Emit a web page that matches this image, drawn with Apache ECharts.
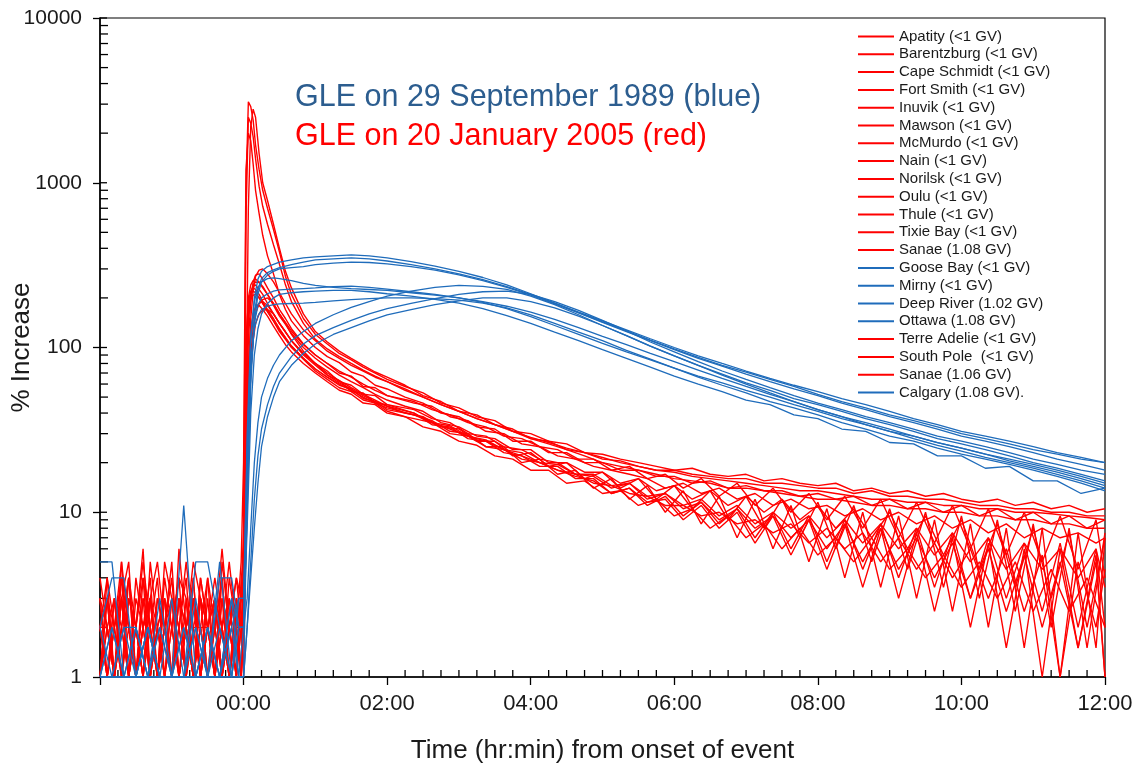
<!DOCTYPE html>
<html>
<head>
<meta charset="utf-8">
<script src="https://cdn.jsdelivr.net/npm/echarts@6/dist/echarts.min.js"></script>
<style>
  html, body { margin: 0; padding: 0; background: #fff; }
  #chart { width: 1137px; height: 767px; }
</style>
</head>
<body>
<div id="chart"></div>
<script>
// minutes from onset of event
const R_T = [-120,-114,-108,-102,-96,-90,-84,-78,-72,-66,-60,-54,-48,-42,-36,-30,-24,-18,-12,-6,-2,
  0,2,4,6,8,10,13,16,20,25,30,35,40,50,60,
  70,80,90,100,110,120,
  135,150,165,180,195,210,225,240,255,270,285,300,315,330,345,360,375,390,405,420,
  435,450,465,480,495,510,525,540,555,570,585,600,615,630,645,660,675,690,705,720]
// stations sampled half a step later in the decay phase
const R_T2 = [-120,-114,-108,-102,-96,-90,-84,-78,-72,-66,-60,-54,-48,-42,-36,-30,-24,-18,-12,-6,-2,
  0,2,4,6,8,10,13,16,20,25,30,35,40,50,60,
  70,80,90,100,110,120,
  142.5,157.5,172.5,187.5,202.5,217.5,232.5,247.5,262.5,277.5,292.5,307.5,322.5,337.5,352.5,367.5,
  382.5,397.5,412.5,427.5,442.5,457.5,472.5,487.5,502.5,517.5,532.5,547.5,562.5,577.5,592.5,607.5,
  622.5,637.5,652.5,667.5,682.5,697.5,712.5,720]
const B_T = [-120,-110,-100,-90,-80,-70,-60,-50,-40,-30,-20,-10,-4,
  0,3,6,9,12,15,20,25,30,40,50,60,
  75,90,105,120,
  140,160,180,200,220,240,260,280,300,320,340,360,380,400,420,440,460,480,500,520,
  540,560,580,600,620,640,660,680,700,720]

// GLE 20 January 2005 (% increase)
const apatity = [2,1,3,1,4,2,1,5,2,1,3,2,1,4,1,2,3,1,2,4,3,
  8,900,3100,2900,2400,1700,1200,900,700,520,380,270,210,150,120,
  105,92,84,76,70,64,
  58,53,46,43,38,36,31,30,27,26,23,22.5,21,20,19,18,18.5,17,16.5,17,
  15.5,16,15,14.5,15,13.5,14,13,13.5,12.5,13,12,11.5,12,11,11.5,10.5,11,10,10.5]
const barentzburg = [1,3,2,5,1,2,4,1,3,2,1,6,2,3,1,4,2,1,3,2,1,
  3,40,700,2200,2800,2500,1500,1000,780,560,400,290,230,160,125,
  108,95,86,78,71,66,
  59,51,47,41,39,34,32,28,27,24,23,21,20.5,19,18,18,17,16.5,16,16,
  15,15,14.5,14,14,13,13.5,12.5,12.5,12,12,11.5,11,11,10.5,10.5,10,10,9.5,9.5]
const capeSchmidt = [2,2,1,3,5,1,2,3,1,4,2,1,2,5,3,1,2,4,1,2,5,
  20,1200,2000,1800,1300,900,650,480,360,280,210,170,145,118,100,
  88,81,71,67,59,56,
  50,46,40,38,33,32,27,27,23,23,20,20,18,18,16.5,16.5,15,15.5,14,14.5,
  13.5,13.5,12.5,13,12,12.5,11,12,10.5,11.5,10,11,9.5,10.5,9,10,8.5,9.5,8,9]
const fortSmith = [1,4,2,1,3,2,6,1,2,3,1,2,4,1,3,2,1,5,2,1,3,
  4,30,110,190,250,275,280,260,230,200,170,150,130,105,90,
  80,70,67,58,57,51,
  46,44,38,36,31,30,26,25,22,21,19,18,17,16,14,15,13,14,12,13,
  11,12,10.5,11,9.5,10.5,9,10,8.5,9.5,8,9,7.5,8.5,7,8,7,7.5,6.5,7]
const inuvik = [3,1,2,4,1,2,1,3,5,2,1,3,2,1,4,2,3,1,2,3,1,
  2,60,150,210,235,240,225,210,185,160,140,125,110,92,80,
  72,62,59,52,51,45,
  42,37,35,30,29,25,24,21,20,17,17,14.5,15,12.5,13,11,12,9.5,11,8.5,
  10,8,9.5,7,9,6.5,8.5,6,8,5.5,7.5,5,7,4.5,6.5,4.5,6,4,6,3.5]
const mawson = [2,3,1,2,4,1,3,2,1,5,3,1,2,3,1,2,4,2,1,3,2,
  2,12,70,150,220,270,295,300,280,250,215,185,160,128,110,
  95,86,78,72,66,62,
  55,50,45,41,37,34,31,28,26,24,22,20,19,18,17,16,15.5,15,14,14,
  13.5,13,12.5,12,12,11.5,11,11,10.5,10.5,10,10,9.5,9.5,9,9,8.5,8.5,8,8]
const mcMurdo = [1,2,1,3,2,1,2,4,1,2,1,3,1,2,2,1,3,1,2,1,2,
  1,8,40,90,130,160,185,195,200,185,160,140,120,95,80,
  68,63,54,53,46,45,
  40,34,33,28,27,23,22,19,19,16,16,13,14,11,12.5,9.5,11.5,8.5,10.5,7,
  10,6,9.5,5,9,4.5,8.5,4,8,3.5,7.5,3,7,3,6.5,2.5,6.5,2,6,2]
const nain = [4,2,1,3,1,2,5,2,1,3,2,4,1,2,3,1,2,6,2,1,4,
  5,80,170,210,220,215,200,185,165,145,125,112,100,85,72,
  64,57,54,48,46,41,
  38,33,31,27,25.5,22,21,18,18,15,15.5,13,13.5,11,12,9.5,10.5,8,9.5,7,
  8.5,6,8,5.5,7,5,7,4.5,6,4,5.5,3.5,5,3,5,2.5,4.5,2.5,4,2]
const norilsk = [2,1,3,2,1,4,2,1,2,3,1,2,5,2,1,3,1,2,1,2,3,
  3,20,80,130,160,175,180,170,155,135,118,104,94,80,70,
  62,55,52,46,45,40,
  37,35,30,29,25,24,21,20,18,16.5,15.5,13,14,11.5,12,9,11,8,10,6.5,
  9.5,5.5,9,4.5,8.5,3.5,8,3,7.5,2.5,7,2,6.5,1.5,6,1,6,1.5,5.5,1]
const oulu = [1,3,1,2,4,1,2,3,1,2,3,1,2,1,4,2,1,3,2,4,2,
  3,90,200,240,255,260,250,230,210,185,160,142,126,104,90,
  80,72,66,60,55,51,
  47,42,39,35,33,29,28,25,24,21,21,18,19,16,17,14,16,12.5,15,11,
  14,10,13,9,12.5,8,12,7,11.5,6.5,11,6,10.5,5.5,10,5,9.5,4.5,9,4]
const thule = [3,1,2,1,3,2,1,2,4,1,3,2,1,3,2,1,2,1,4,2,1,
  6,110,190,220,230,225,210,190,170,150,130,115,102,86,74,
  66,59,56,49,47,42,
  39,35,32,29,27,24,22,20,18,17,15,14.5,13,12.5,11,11,9.5,10,8.5,9,
  7.5,8.5,6.5,8,6,7.5,5,7,4.5,6.5,4,6,3,6,2.5,5.5,1,5,2,4.5]
const tixieBay = [2,4,1,2,1,3,2,1,3,2,5,1,2,4,1,2,3,2,1,2,1,
  2,15,60,110,150,175,185,190,180,160,140,124,110,90,78,
  68,61,56,51,47,44,
  40,38,33,32,27,27,22,23,19,20,16,17.5,14,16,12,14.5,10.5,13.5,9,12.5,
  8,12,7,11.5,6,11,5,10.5,4.5,10,3.5,9.5,3,9,2.5,8.5,2,8,1.5,7.5]
const sanaeA = [1,2,3,1,2,1,4,2,1,2,1,3,2,1,2,4,1,2,3,1,2,
  2,6,30,70,110,140,160,168,170,160,140,124,110,92,80,
  70,63,57,52,48,44,
  40,35,33.5,29,27.5,24,23,20,19.5,17,16.5,14,15,12,13,10.5,11.5,9,10.5,8,
  9.5,7,9,6,8.5,5,8,4.5,7,4,6.5,3,6,2.5,5.5,2,5,1.5,5,1]
const terreAdelie = [3,2,1,4,2,1,3,1,2,1,2,4,3,1,2,1,3,2,5,2,3,
  4,70,160,215,240,250,248,235,210,180,155,138,122,100,86,
  76,68,62,57,52,48,
  44,41,35,33,29,28,24,24,20,20,17.5,17.5,15,16,13.5,14.5,12,13.5,11,12.5,
  10,12,9,11,8,10.5,7,10,6,9.5,5.5,9,4.5,8.5,3.5,8,3,7.5,2,7]
const southPole = [2,1,2,3,1,2,1,3,2,1,2,1,3,1,2,2,1,3,1,2,2,
  5,600,2500,2300,1900,1400,950,720,560,420,320,240,190,140,112,
  98,88,80,73,67,62,
  56,50,45,41,37,34,31,28.5,26.5,24.5,23,21.5,20,19,18,17.5,16.5,16,15.5,15,
  14.5,14,13.5,13.5,13,12.5,12,12,11.5,11.5,11,11,10.5,10.5,10,10,9.8,9.5,9.3,9]
const sanaeB = [2,3,1,5,2,1,2,3,1,2,4,1,2,1,3,2,1,4,1,3,2,
  3,50,150,195,208,210,200,185,165,145,128,114,102,86,74,
  66,60,55,50,46,43,
  39,36,31,30,25,25,20,21,17,18,14,16,12,14.5,10,13.5,8.5,12.5,7,12,
  6,11,5,10.5,4,10,3.5,9.5,3,9,2.5,8.5,2,8,1.5,8,1,7.5,1.5,7]

// GLE 29 September 1989 (% increase)
const gooseBay = [1,1,2,2,1,1,3,1,1,2,1,2,3,
  3,25,110,200,260,290,310,320,330,340,350,355,
  360,365,360,350,
  332,312,290,266,240,212,186,163,143,126,111,98,87,78,71,64,58,52,47,43,
  39,36,33,30,28,26,24,22.5,21,20]
const mirny = [2,4,4,1,1,2,1,1,5,5,2,1,2,
  2,10,60,140,210,250,275,290,300,305,310,318,
  325,330,328,322,
  310,295,276,255,232,208,184,162,142,125,110,97,86,77,69,62,56,51,46,42,
  38,35,32,29,27,25,23,21,19.5,18]
const deepRiver = [1,1,1,2,1,1,1,2,1,1,1,3,2,
  2,30,120,190,230,250,262,265,262,255,245,238,
  232,228,225,222,
  215,208,200,188,172,154,136,120,106,94,84,75,67,61,55,50,45,41,37,34,
  31,29,26.5,24.5,22.5,21,19.5,18,16.5,15]
const ottawa = [1,2,1,1,2,1,1,1,2,1,4,4,2,
  2,3,8,20,35,50,65,78,90,110,125,140,
  158,175,190,205,
  220,232,238,235,225,205,182,158,136,118,102,89,78,69,61,55,49,45,41,37,
  34,31,28,26,24,22,20,18.5,17,15.5]
const calgary = [1,1,2,1,2,1,1,11,1,2,1,2,1,
  2,8,40,90,130,160,185,200,210,215,218,220,
  222,222,218,212,
  205,196,186,172,156,140,124,110,97,86,76,67,60,54,48,45,39,37,32,31,
  26.5,26,22,22,18.5,19,15.5,15.5,13,14]
const extra1989a = [1,2,1,1,1,3,1,2,1,1,2,1,1,
  1,12,70,160,225,262,285,296,305,318,330,340,
  345,350,345,335,
  318,300,280,258,234,210,186,164,145,128,113,100,89,80,72,65,59,54,49,45,
  41,37,34,31,29,27,25,23,21.5,20]
const extra1989b = [2,1,1,1,2,1,1,1,3,1,1,1,2,
  2,15,70,140,180,200,212,220,224,226,228,230,
  234,236,232,226,
  218,210,200,190,178,164,148,132,117,104,92,82,73,65,58,52,47,42,38,35,
  32,29,26.5,24.5,22.5,20.5,19,17.5,16,14.5]
const extra1989c = [1,1,1,2,1,1,1,1,1,2,1,3,1,
  1,2,5,12,22,32,45,58,70,88,105,118,
  132,146,160,172,
  185,198,210,218,220,210,190,168,146,126,108,94,82,72,64,57,51,46,42,38,
  35,32,29,27,25,23,21,19.5,18,17]
const extra1989d = [5,5,1,1,2,1,1,1,2,1,1,1,3,
  3,20,80,130,155,170,178,182,184,185,186,188,
  192,195,198,200,
  200,198,194,186,174,158,140,124,110,96,85,75,66,59,53,47,43,39,35,32,
  29,27,24.5,22.5,21,19.5,18,16.5,15,13.5]
const extra1989e = [1,1,1,1,1,2,1,1,1,1,5,1,1,
  1,2,4,8,15,25,38,50,62,78,92,105,
  120,132,145,158,
  170,182,192,200,200,190,174,155,136,118,102,89,78,68,60,53,47,42,38,34,
  31,28,25.5,23.5,21.5,20,18.5,17,15.5,14]

// axis ticks
const Y_MAJOR_TICKS = [1, 10, 100, 1000, 10000]
const Y_MINOR_TICKS = [2,3,4,5,6,7,8,9, 20,30,40,50,60,70,80,90,
  200,300,400,500,600,700,800,900, 2000,3000,4000,5000,6000,7000,8000,9000]
const X_MINOR_TICKS = [-105,-90,-75,-60,-45,-30,-15,15,30,45,60,75,90,105,135,150,165,180,195,210,225,
  255,270,285,300,315,330,345,375,390,405,420,435,450,465,495,510,525,540,555,570,585,
  615,630,645,660,675,690,705]

const RED = '#ff0000'
const BLUE = '#1f6cbb'
const FONT = 'Liberation Sans, Arial, sans-serif'

// legend order as in the figure
const stations = [
  ['Apatity (<1 GV)', apatity, RED, R_T],
  ['Barentzburg (<1 GV)', barentzburg, RED, R_T],
  ['Cape Schmidt (<1 GV)', capeSchmidt, RED, R_T],
  ['Fort Smith (<1 GV)', fortSmith, RED, R_T2],
  ['Inuvik (<1 GV)', inuvik, RED, R_T2],
  ['Mawson (<1 GV)', mawson, RED, R_T],
  ['McMurdo (<1 GV)', mcMurdo, RED, R_T2],
  ['Nain (<1 GV)', nain, RED, R_T],
  ['Norilsk (<1 GV)', norilsk, RED, R_T2],
  ['Oulu (<1 GV)', oulu, RED, R_T2],
  ['Thule (<1 GV)', thule, RED, R_T2],
  ['Tixie Bay (<1 GV)', tixieBay, RED, R_T],
  ['Sanae (1.08 GV)', sanaeA, RED, R_T2],
  ['Goose Bay (<1 GV)', gooseBay, BLUE, B_T],
  ['Mirny (<1 GV)', mirny, BLUE, B_T],
  ['Deep River (1.02 GV)', deepRiver, BLUE, B_T],
  ['Ottawa (1.08 GV)', ottawa, BLUE, B_T],
  ['Terre Adelie (<1 GV)', terreAdelie, RED, R_T],
  ['South Pole  (<1 GV)', southPole, RED, R_T],
  ['Sanae (1.06 GV)', sanaeB, RED, R_T2],
  ['Calgary (1.08 GV).', calgary, BLUE, B_T]
]
// 1989 traces not named in the legend
const unlisted = [extra1989a, extra1989b, extra1989c, extra1989d, extra1989e]

function lineSeries(name, vals, color, times, z) {
  return {
    name,
    type: 'line',
    data: times.map((t, i) => [t, vals[i]]),
    showSymbol: false,
    symbol: 'none',
    silent: true,
    z,
    lineStyle: { width: color === RED ? 1.4 : 1.3, color },
    itemStyle: { color },
    emphasis: { disabled: true }
  }
}

const series = []
// tick marks drawn through the axes' own scales
series.push({
  type: 'custom', silent: true, z: 1,
  data: X_MINOR_TICKS.map(t => [t, 1]),
  renderItem(params, api) {
    const p = api.coord([api.value(0), api.value(1)])
    return { type: 'line', shape: { x1: p[0], y1: p[1], x2: p[0], y2: p[1] - 7 }, style: { stroke: '#000', lineWidth: 1.3 } }
  }
})
series.push({
  type: 'custom', silent: true, z: 1,
  data: Y_MINOR_TICKS.map(v => [-120, v, 8]).concat(Y_MAJOR_TICKS.map(v => [-120, v, 7])),
  renderItem(params, api) {
    const p = api.coord([api.value(0), api.value(1)])
    return { type: 'line', shape: { x1: p[0], y1: p[1], x2: p[0] + api.value(2), y2: p[1] }, style: { stroke: '#000', lineWidth: 1.3 } }
  }
})
stations.forEach(s => {
  if (s[2] === RED) series.push(lineSeries(s[0], s[1], s[2], s[3], 3))
})
unlisted.forEach((v, i) => series.push(lineSeries('1989 trace ' + (i + 1), v, BLUE, B_T, 4)))
stations.forEach(s => {
  if (s[2] === BLUE) series.push(lineSeries(s[0], s[1], s[2], s[3], 4))
})

const chart = echarts.init(document.getElementById('chart'))
chart.setOption({
  animation: false,
  backgroundColor: '#fff',
  title: [
    { text: 'GLE on 29 September 1989 (blue)', left: 295, top: 82, padding: 0,
      textStyle: { fontFamily: FONT, fontSize: 30.5, fontWeight: 'normal', color: '#2c5d8f' } },
    { text: 'GLE on 20 January 2005 (red)', left: 295, top: 121, padding: 0,
      textStyle: { fontFamily: FONT, fontSize: 30.5, fontWeight: 'normal', color: '#ff0000' } }
  ],
  legend: {
    data: stations.map(s => s[0]),
    orient: 'vertical',
    left: 858,
    top: 29,
    padding: 0,
    icon: 'rect',
    itemWidth: 36,
    itemHeight: 2,
    itemGap: 2.8,
    selectedMode: false,
    textStyle: { fontFamily: FONT, fontSize: 15, lineHeight: 15, color: '#1a1a1a', padding: [0, 0, 0, 0] }
  },
  grid: {
    left: 100, right: 32, top: 18, bottom: 90,
    outerBoundsMode: 'none',
    containLabel: false,
    show: true, borderColor: '#000', borderWidth: 1.2, backgroundColor: 'transparent'
  },
  xAxis: {
    type: 'value',
    min: -120,
    max: 720,
    interval: 120,
    name: 'Time (hr:min) from onset of event',
    nameLocation: 'middle',
    nameGap: 61,
    nameMoveOverlap: false,
    nameTextStyle: { fontFamily: FONT, fontSize: 26, color: '#1a1a1a' },
    axisLine: { show: true, onZero: false, lineStyle: { color: '#000', width: 1.5 } },
    axisTick: { show: true, inside: false, length: 8, lineStyle: { color: '#000', width: 1.3 } },
    splitLine: { show: false },
    axisLabel: {
      fontFamily: FONT, fontSize: 22, color: '#1a1a1a', margin: 16,
      formatter: v => {
        if (v < 0) return ''
        const h = Math.round(v / 60)
        return (h < 10 ? '0' : '') + h + ':00'
      }
    }
  },
  yAxis: {
    type: 'log',
    logBase: 10,
    min: 1,
    max: 10000,
    name: '% Increase',
    nameLocation: 'middle',
    nameRotate: 90,
    nameGap: 65,
    nameMoveOverlap: false,
    nameTextStyle: { fontFamily: FONT, fontSize: 26, color: '#1a1a1a' },
    axisLine: { show: true, onZero: false, lineStyle: { color: '#000', width: 1.5 } },
    axisTick: { show: true, inside: false, length: 7, lineStyle: { color: '#000', width: 1.3 } },
    splitLine: { show: false },
    axisLabel: {
      fontFamily: FONT, fontSize: 21, color: '#1a1a1a', margin: 18,
      formatter: v => String(Math.round(v))
    }
  },
  series
})
</script>
</body>
</html>
